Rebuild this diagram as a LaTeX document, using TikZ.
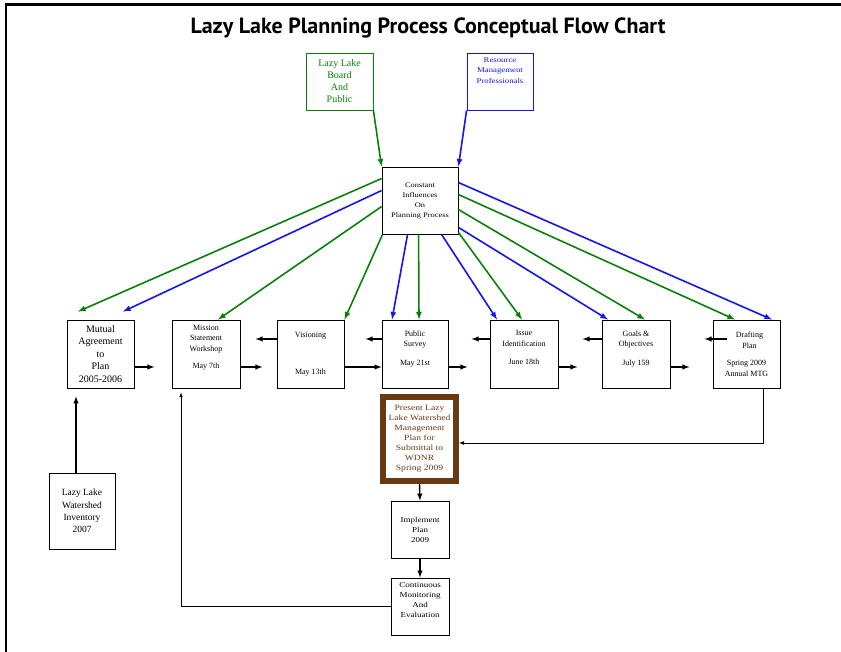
\documentclass[tikz,border=0pt]{standalone}
\usepackage{fontspec}
\setmainfont{Liberation Serif}
\newfontfamily\titlefont{PT Sans}
\newfontfamily\widefont[FakeStretch=1.2]{Liberation Serif}
\usetikzlibrary{arrows}

\definecolor{boardgreen}{RGB}{10,128,10}
\definecolor{problue}{RGB}{20,20,240}
\definecolor{planbrown}{RGB}{105,58,18}

\tikzset{
  box/.style={draw,line width=0.9pt,align=center,inner sep=0pt,
    font=\fontsize{8}{10.5}\selectfont},
  rowbox/.style={box,minimum width=67,minimum height=68},
  greenline/.style={->,color=boardgreen,line width=1.6pt},
  blueline/.style={->,color=problue,line width=1.6pt},
  stepline/.style={->,line width=1.4pt},
}

\begin{document}
\begin{tikzpicture}[>=latex,x=1pt,y=-1pt]

\useasboundingbox (0,0) rectangle (841,652);

\draw[line width=2.5pt] (6,652)--(6,4.5)--(841,4.5);

\node[font=\titlefont\bfseries\fontsize{22}{24}\selectfont] (title) at (428,28)
  {Lazy Lake Planning Process Conceptual Flow Chart};

\node[box,draw=boardgreen,text=boardgreen,minimum width=67,minimum height=57,
  font=\fontsize{10}{12}\selectfont] (board) at (339.5,81.5)
  {Lazy Lake\\Board\\And\\Public};
\node[box,draw=problue,text=problue,minimum width=66,minimum height=57,
  font=\widefont\fontsize{7.3}{10.5}\selectfont] (pros) at (500,81.5)
  {Resource\\Management\\Professionals\\[12pt]~};
\node[box,minimum width=76,minimum height=67,font=\widefont\fontsize{7}{10}\selectfont]
  (influence) at (420,200.5)
  {Constant\\Influences\\On\\Planning Process};

\node[rowbox,font=\fontsize{10}{12.5}\selectfont] (mutual) at (100.5,354)
  {Mutual\\Agreement\\to\\Plan\\2005-2006};
\node[rowbox,minimum width=68] (mission) at (206,354)
  {Mission\\Statement\\Workshop\\[7pt]May 7th\\[4pt]~};
\node[rowbox] (vision) at (310.5,354) {Visioning\\[26pt]May 13th};
\node[rowbox,minimum width=66] (survey) at (415,354)
  {Public\\Survey\\[8pt]May 21st\\[2pt]~};
\node[rowbox,minimum width=68] (issue) at (524,354)
  {Issue\\Identification\\[8pt]June 18th\\[2pt]~};
\node[rowbox,minimum width=68] (goals) at (636,354)
  {Goals \&\\Objectives\\[8pt]July 159\\[2pt]~};
\node[rowbox] (draft) at (746.5,354)
  {\hspace*{6pt}Drafting\\\hspace*{6pt}Plan\\[7pt]Spring 2009\\Annual MTG};

\node[box,draw=planbrown,text=planbrown,line width=6pt,minimum width=73,
  minimum height=84,font=\widefont\fontsize{8}{10}\selectfont] (present) at (419.5,439)
  {Present Lazy\\Lake Watershed\\Management\\Plan for\\Submittal to\\WDNR\\Spring 2009};

\node[box,minimum width=66,minimum height=76,font=\fontsize{9.5}{12.3}\selectfont]
  (inventory) at (82,511) {Lazy Lake\\Watershed\\Inventory\\2007};
\node[box,minimum width=58,minimum height=57,font=\widefont\fontsize{7.5}{10}\selectfont]
  (implement) at (420,529.5) {Implement\\Plan\\2009};
\node[box,minimum width=58,minimum height=57,font=\widefont\fontsize{7.5}{10}\selectfont]
  (monitor) at (420,606.5) {Continuous\\Monitoring\\And\\Evaluation\\[3pt]~};

\draw[greenline] (board.south east)--(influence.north west);
\draw[blueline] (pros.south west)--(influence.north east);

\draw[greenline] ([shift={(0,12)}]influence.north west)--([shift={(-22.5,-8)}]mutual.north);
\draw[blueline] ([shift={(0,24)}]influence.north west)--([shift={(22.5,-8)}]mutual.north);
\draw[greenline] ([shift={(0,40)}]influence.north west)--([shift={(12,0)}]mission.north);
\draw[greenline] ([shift={(1,0)}]influence.south west)--(vision.north east);
\draw[blueline] ([shift={(26,0)}]influence.south west)--([shift={(-23,0)}]survey.north);
\draw[greenline] ([shift={(37,0)}]influence.south west)--([shift={(4,0)}]survey.north);
\draw[blueline] ([shift={(60,0)}]influence.south west)--([shift={(-27,0)}]issue.north);
\draw[greenline] ([shift={(0,-2)}]influence.south east)--([shift={(-2,0)}]issue.north);
\draw[blueline] ([shift={(0,-7)}]influence.south east)--([shift={(-28,0)}]goals.north);
\draw[greenline] ([shift={(0,43)}]influence.north east)--([shift={(9,0)}]goals.north);
\draw[greenline] ([shift={(0,28)}]influence.north east)--([shift={(-11.5,0)}]draft.north);
\draw[blueline] ([shift={(0,16)}]influence.north east)--([shift={(25.5,0)}]draft.north);

\draw[stepline] ([shift={(0,13)}]mutual.east)--++(20,0);
\draw[stepline] ([shift={(0,13)}]mission.east)--++(22,0);
\draw[stepline] ([shift={(0,-15)}]vision.west)--++(-21,0);
\draw[stepline] ([shift={(0,13)}]vision.east)--([shift={(0,13)}]survey.west);
\draw[stepline] ([shift={(0,-15)}]survey.west)--++(-16,0);
\draw[stepline] ([shift={(0,13)}]survey.east)--++(19,0);
\draw[stepline] ([shift={(0,-15)}]issue.west)--++(-18,0);
\draw[stepline] ([shift={(0,13)}]issue.east)--++(19,0);
\draw[stepline] ([shift={(0,-15)}]goals.west)--++(-19,0);
\draw[stepline] ([shift={(0,13)}]goals.east)--++(19,0);
\draw[stepline] ([shift={(14,-15)}]draft.west)--++(-22,0);

\draw[->,line width=0.8pt] ([shift={(16.5,0)}]draft.south)|-([shift={(0,4)}]present.east);
\draw[stepline] (present.south)--(implement.north);
\draw[stepline] (implement.south)--(monitor.north);
\draw[->,line width=0.6pt] (monitor.west)-|([shift={(-25,4)}]mission.south);
\draw[stepline] ([shift={(-6,0)}]inventory.north)--([shift={(-24.5,8)}]mutual.south);

\end{tikzpicture}
\end{document}
